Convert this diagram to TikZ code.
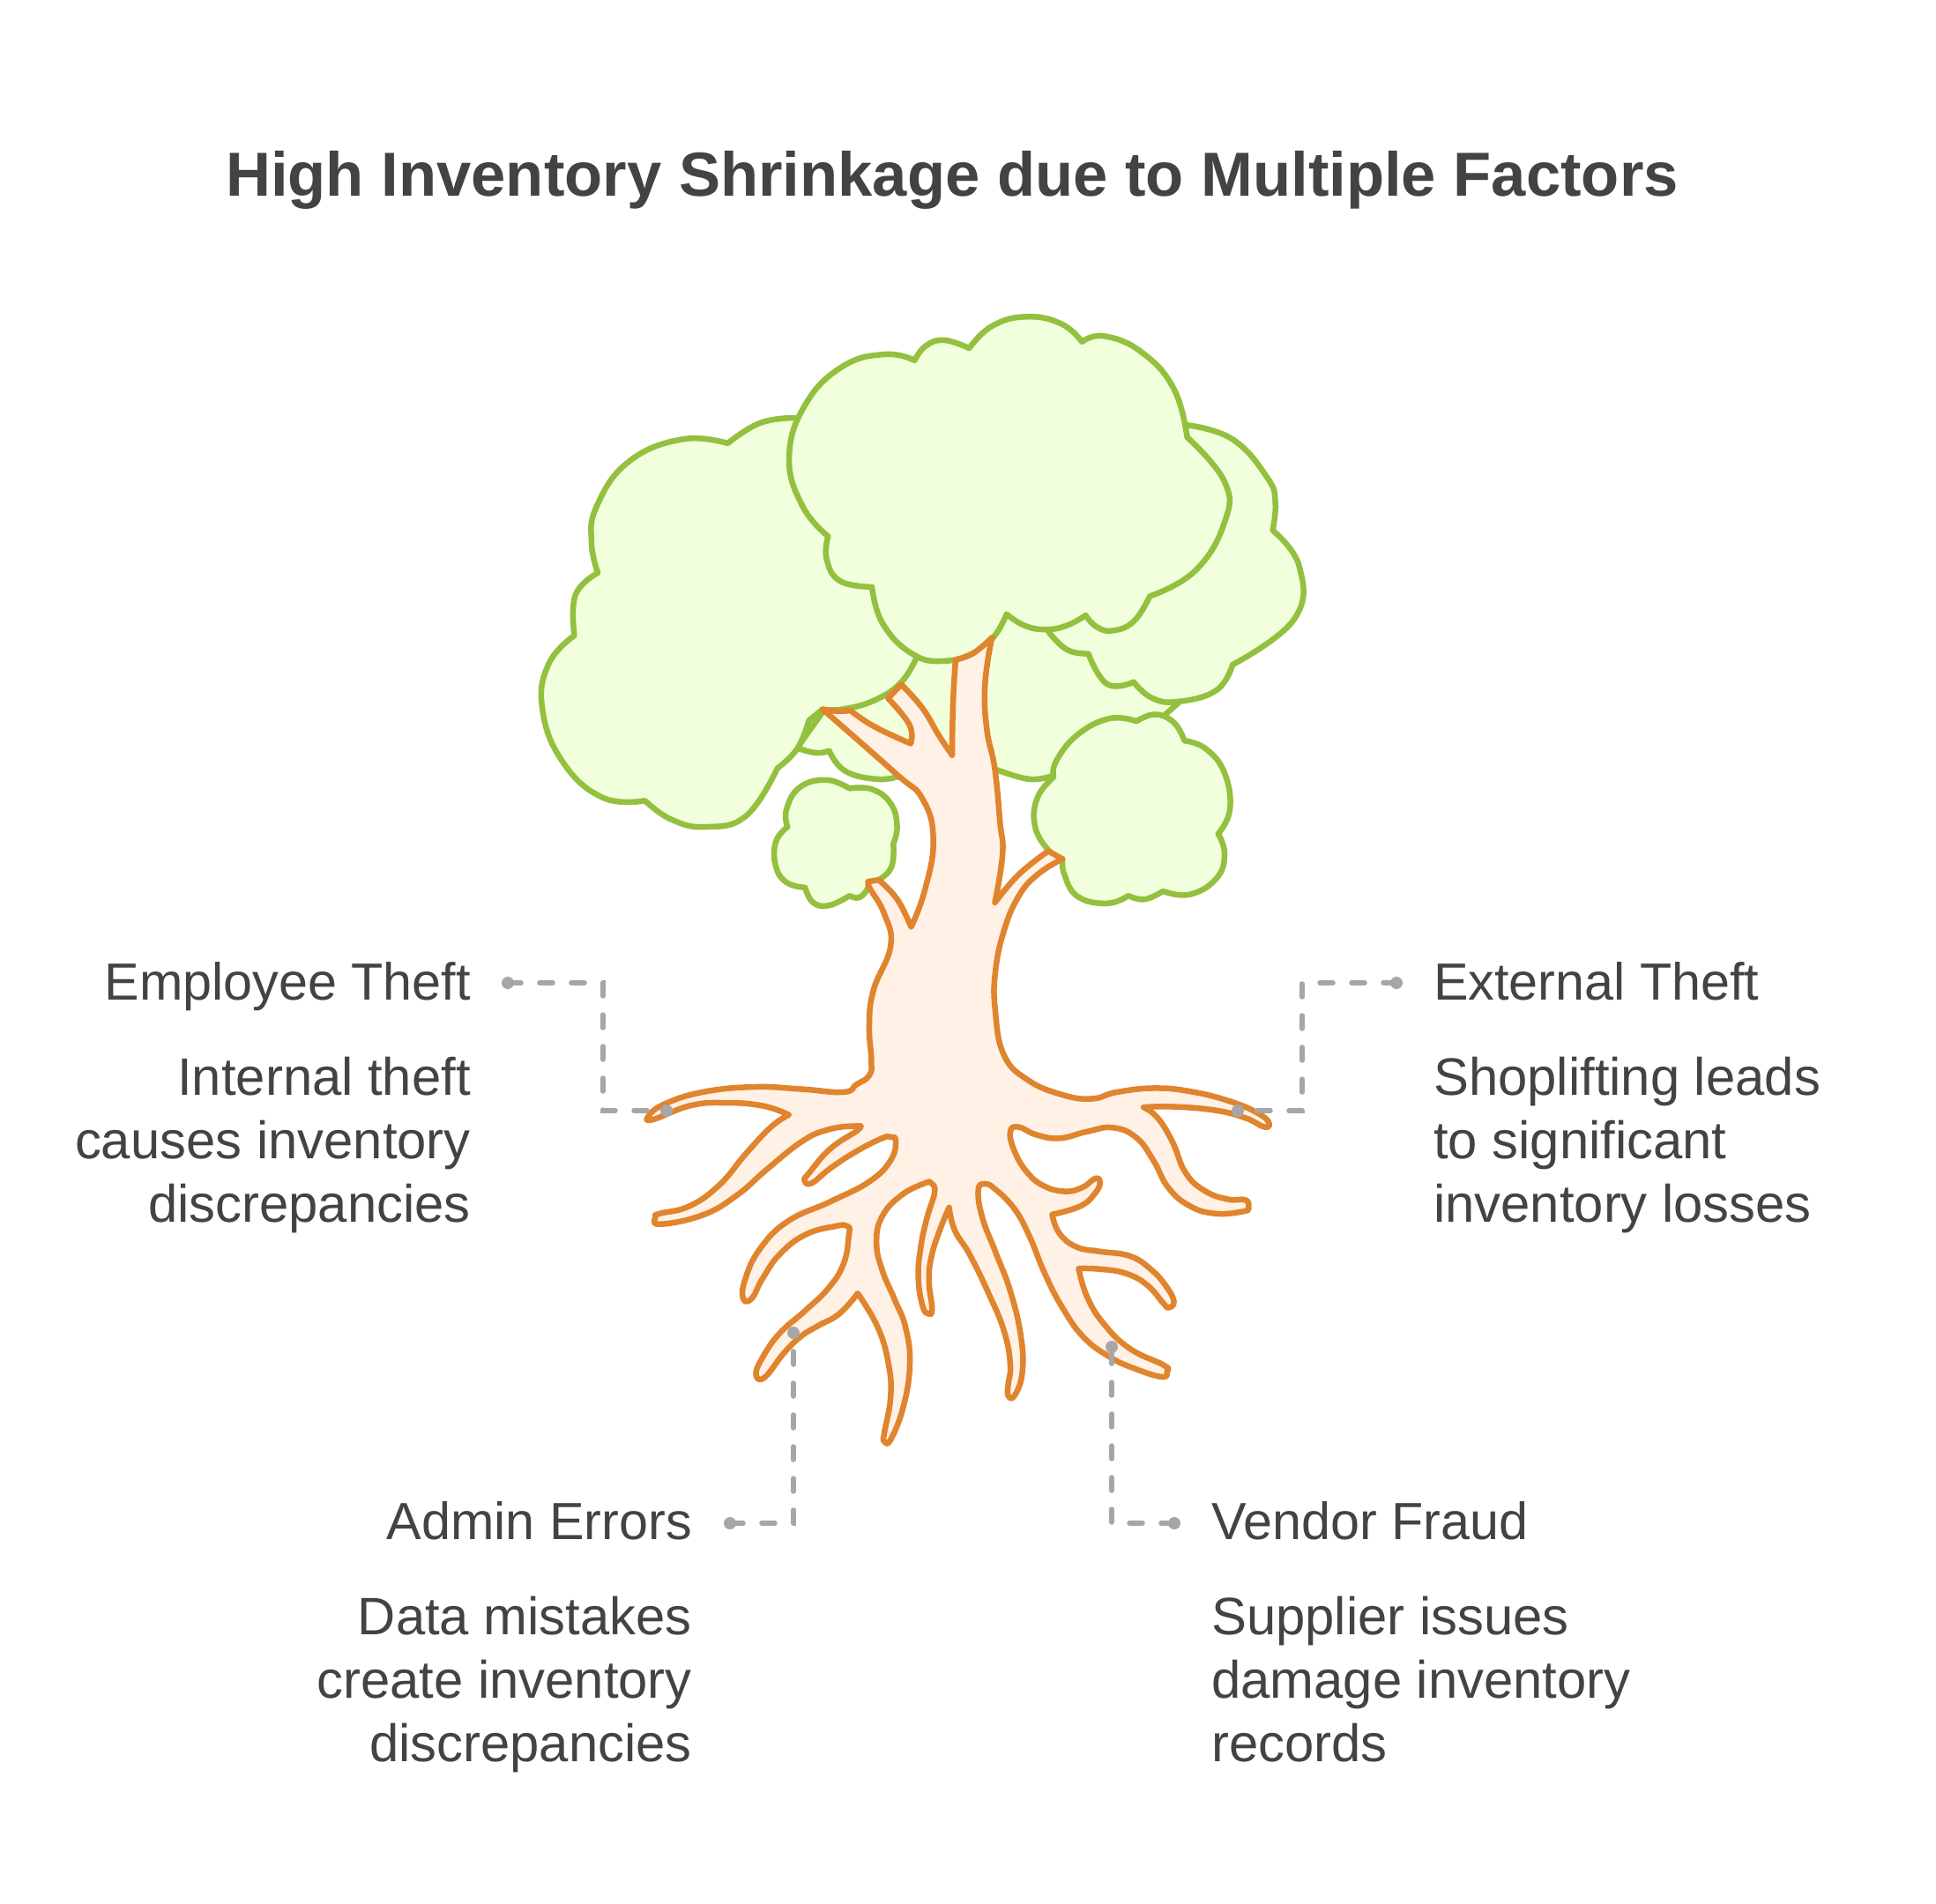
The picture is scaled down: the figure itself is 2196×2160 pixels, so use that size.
\documentclass[tikz,border=0pt]{standalone}
\usepackage{fontspec}
\setmainfont{Liberation Sans}
\definecolor{leaf}{HTML}{93C03F}
\definecolor{leaffill}{HTML}{F2FFDC}
\definecolor{bark}{HTML}{E0842E}
\definecolor{barkfill}{HTML}{FFF1E5}
\definecolor{ink}{HTML}{434343}
\definecolor{connect}{HTML}{A6A6A6}
\newcommand\sg[1]{-- plot[smooth,tension=.75] coordinates {#1}}
\tikzset{
  zone/.style={shift={(580,340)},x=0.606pt,y=-0.459pt},
  zthree/.style={shift={(700,1220)},x=0.4847pt,y=-0.3444pt},
  crown/.style={draw=leaf,fill=leaffill,line width=6.5pt,line join=round},
  wood/.style={draw=bark,fill=barkfill,line width=6.5pt,line join=round},
  conn/.style={draw=connect,line width=5.5pt,line cap=round,dash pattern=on 15pt off 21pt},
  dot/.style={circle,fill=connect,inner sep=0pt,minimum size=14pt},
  headlabel/.style={font=\fontsize{59.3}{72}\selectfont,text=ink,inner sep=0pt},
  bodylabel/.style={font=\fontsize{59.8}{72}\selectfont,text=ink,inner sep=0pt},
  titlelabel/.style={font=\bfseries\fontsize{70.6}{84}\selectfont,text=ink,inner sep=0pt}
}
\begin{document}
\begin{tikzpicture}[x=1pt,y=-1pt]
\useasboundingbox[fill=white] (0,0) rectangle (2196,2160);
\node[titlelabel,anchor=base] (title) at (1080,222) {High Inventory Shrinkage due to Multiple Factors};

\begin{scope}[zone]
% back canopy
\path[crown] (535,1108) \sg{(535,1108)(570,1120)(595,1115)} \sg{(595,1115)(625,1165)(685,1185)(725,1178)}
  -- (905,1160) \sg{(905,1160)(970,1185)(1015,1175)} -- (1220,1030) -- (1250,995) -- (1000,700) -- (700,800) -- cycle;
% left canopy
\path[crown] (405,355) \sg{(405,355)(320,345)(220,400)(160,510)(150,600)(162,675)}
  \sg{(162,675)(120,730)(118,830)}
  \sg{(118,830)(70,900)(58,1010)(95,1140)(170,1230)(250,1238)}
  \sg{(250,1238)(300,1285)(365,1303)(440,1275)(498,1158)}
  \sg{(498,1158)(535,1110)(557,1040)}
  \sg{(557,1040)(583,1012)}
  \sg{(583,1012)(620,1012)(680,990)(730,945)(760,880)}
  -- (700,500) -- (530,292) \sg{(530,292)(465,305)(405,355)} -- cycle;
% right canopy
\path[crown] (1265,310) \sg{(1265,310)(1350,345)(1415,440)(1430,500)(1425,570)}
  \sg{(1425,570)(1475,660)(1465,790)(1350,902)}
  \sg{(1350,902)(1320,965)(1250,993)(1200,985)(1165,945)}
  \sg{(1165,945)(1115,950)(1080,875)}
  \sg{(1080,875)(1040,865)(1005,820)}
  -- (1100,600) -- cycle;
% main canopy
\path[crown] (755,150) \sg{(755,150)(700,135)(620,165)(550,260)(520,390)(545,510)(593,585)}
  \sg{(593,585)(590,640)(615,695)(675,710)}
  \sg{(675,710)(695,800)(750,875)(810,893)(870,870)(905,830)(927,777)}
  \sg{(927,777)(960,805)(1000,815)(1040,805)(1075,780)}
  \sg{(1075,780)(1095,808)(1125,818)(1165,795)(1195,733)}
  \sg{(1195,733)(1280,670)(1335,550)(1335,450)(1265,340)}
  \sg{(1265,340)(1240,220)(1180,130)(1110,90)(1068,104)}
  \sg{(1068,104)(1030,60)(965,42)(900,65)(857,120)}
  \sg{(857,120)(810,100)(775,115)(755,150)} -- cycle;
% small left bush
\path[crown] (633,1208) \sg{(633,1208)(590,1187)(540,1205)(515,1260)(517,1303)}
  \sg{(517,1303)(495,1340)(495,1400)(515,1440)(550,1453)}
  \sg{(550,1453)(565,1490)(595,1497)(633,1473)}
  \sg{(633,1473)(650,1478)(665,1460)(670,1438)}
  \sg{(670,1438)(690,1432)(712,1400)(715,1345)}
  \sg{(715,1345)(722,1300)(710,1245)(675,1210)(633,1208)} -- cycle;
% right bush
\path[crown] (1170,1042) \sg{(1170,1042)(1120,1035)(1060,1075)(1020,1140)(1015,1180)}
  \sg{(1015,1180)(985,1230)(980,1300)(1005,1360)(1032,1382)}
  \sg{(1032,1382)(1035,1420)(1060,1475)(1115,1492)(1155,1473)}
  \sg{(1155,1473)(1185,1482)(1220,1462)}
  \sg{(1220,1462)(1270,1470)(1320,1430)(1335,1370)(1323,1320)}
  \sg{(1323,1320)(1345,1260)(1335,1170)(1300,1110)(1260,1090)}
  \sg{(1260,1090)(1240,1045)(1205,1025)(1170,1042)} -- cycle;
\end{scope}

\begin{scope}[zthree]
\path[wood] (481,-1206) \sg{(481,-1206)(512,-1200)(546,-1202)}
  \sg{(546,-1202)(602,-1149)(687,-1093)}
  \sg{(687,-1093)(684,-1155)(634,-1242)} -- (665,-1288)
  \sg{(665,-1288)(715,-1209)(752,-1122)(784,-1055)}
  \sg{(784,-1055)(786,-1222)(792,-1369)}
  \sg{(792,-1369)(834,-1391)(877,-1442)}
  \sg{(877,-1442)(861,-1289)(865,-1142)(884,-1009)(896,-835)(902,-729)(884,-569)}
  \sg{(884,-569)(940,-662)(1009,-739)} -- (1042,-713)
  \sg{(1042,-713)(985,-663)(940,-591)(905,-475)(885,-339)(885,-213)(905,-68)(960,14)(1040,63)(1110,77)(1170,55)(1260,42)(1350,55)(1440,88)(1500,125)(1525,155)(1515,170)(1470,140)(1400,115)(1300,103)(1232,105)}
  \sg{(1232,105)(1265,140)(1300,220)(1330,320)(1375,380)(1430,408)(1470,410)(1478,435)(1465,448)(1400,455)(1340,430)(1290,370)(1255,280)(1215,205)(1160,172)(1100,185)(1035,207)(980,195)(940,170)(920,185)(930,250)(960,320)(1000,365)(1050,382)(1090,368)(1118,340)(1130,350)(1120,385)(1085,430)(1018,458)}
  \sg{(1018,458)(1035,520)(1075,565)(1130,580)(1200,595)(1250,640)(1285,695)(1303,745)(1290,765)(1278,750)(1240,690)(1190,652)(1130,638)(1080,636)}
  \sg{(1080,636)(1100,730)(1140,820)(1200,900)(1280,955)(1287,975)(1275,993)(1210,965)(1150,925)(1090,860)(1040,760)(1000,650)(965,530)(930,440)(885,375)(860,357)(845,380)(855,470)(885,580)(920,710)(945,860)(948,980)(930,1055)(915,1055)(915,1020)(920,950)(905,840)(870,720)(825,590)(790,510)(777,435)}
  \sg{(777,435)(755,510)(735,600)(730,680)(737,770)(728,785)(715,760)(705,670)(710,570)(725,470)(743,385)(735,355)(720,355)(665,395)(620,465)(607,550)(620,640)(650,740)(675,830)(685,950)(670,1090)(640,1200)(625,1205)(625,1180)(640,1060)(635,950)(610,830)(563,718)}
  \sg{(563,718)(520,785)(470,825)(430,860)(390,915)(345,995)(325,985)(340,930)(380,850)(440,775)(495,700)(530,620)(542,530)(540,497)(510,497)(440,525)(380,590)(340,670)(315,735)(295,735)(300,670)(335,570)(400,480)(500,415)(590,350)(640,280)(652,215)(640,203)(620,207)(560,250)(500,305)(455,355)(438,345)(450,320)(500,240)(565,178)(555,167)(490,180)(430,220)(350,310)(280,395)(200,460)(100,490)(90,465)(100,455)(170,430)(240,360)(300,260)(360,170)(402,130)}
  \sg{(402,130)(340,100)(250,90)(170,100)(85,145)(73,135)(110,95)(200,55)(320,38)(430,45)(530,55)(560,30)(590,0)(595,-49)(590,-165)(600,-281)(640,-426)(625,-533)(590,-620)(590,-639)}
  -- (612,-644)
  \sg{(612,-644)(655,-581)(688,-489)}
  \sg{(688,-489)(720,-610)(740,-775)(715,-910)(650,-997)(481,-1206)} -- cycle;
\end{scope}

% Employee Theft
\node[headlabel,anchor=base east] (empHead) at (534,1134) {Employee Theft};
\node[bodylabel,anchor=north east,align=right] (empBody) at (534,1199) {Internal theft\\causes inventory\\discrepancies};
\node[dot] (empA) at (576,1115) {};
\node[dot] (empB) at (756,1260) {};
\coordinate (empK1) at (684,1115);
\coordinate (empK2) at (684,1260);
\draw[conn] (empA.center) -- (empK1) -- (empK2) -- (empB.center);
% External Theft
\node[headlabel,anchor=base west] (extHead) at (1626,1134) {External Theft};
\node[bodylabel,anchor=north west,align=left] (extBody) at (1626,1199) {Shoplifting leads\\to significant\\inventory losses};
\node[dot] (extA) at (1584,1115) {};
\node[dot] (extB) at (1404,1260) {};
\coordinate (extK1) at (1477,1115);
\coordinate (extK2) at (1477,1260);
\draw[conn] (extA.center) -- (extK1) -- (extK2) -- (extB.center);
% Admin Errors
\node[headlabel,anchor=base east] (admHead) at (785,1746) {Admin Errors};
\node[bodylabel,anchor=north east,align=right] (admBody) at (785,1811) {Data mistakes\\create inventory\\discrepancies};
\node[dot] (admA) at (828,1728) {};
\node[dot] (admB) at (900,1512) {};
\coordinate (admK) at (900,1728);
\draw[conn] (admA.center) -- (admK) -- (admB.center);
% Vendor Fraud
\node[headlabel,anchor=base west] (venHead) at (1374,1746) {Vendor Fraud};
\node[bodylabel,anchor=north west,align=left] (venBody) at (1374,1811) {Supplier issues\\damage inventory\\records};
\node[dot] (venA) at (1332,1728) {};
\node[dot] (venB) at (1261,1528) {};
\coordinate (venK) at (1261,1728);
\draw[conn] (venA.center) -- (venK) -- (venB.center);
\end{tikzpicture}
\end{document}
